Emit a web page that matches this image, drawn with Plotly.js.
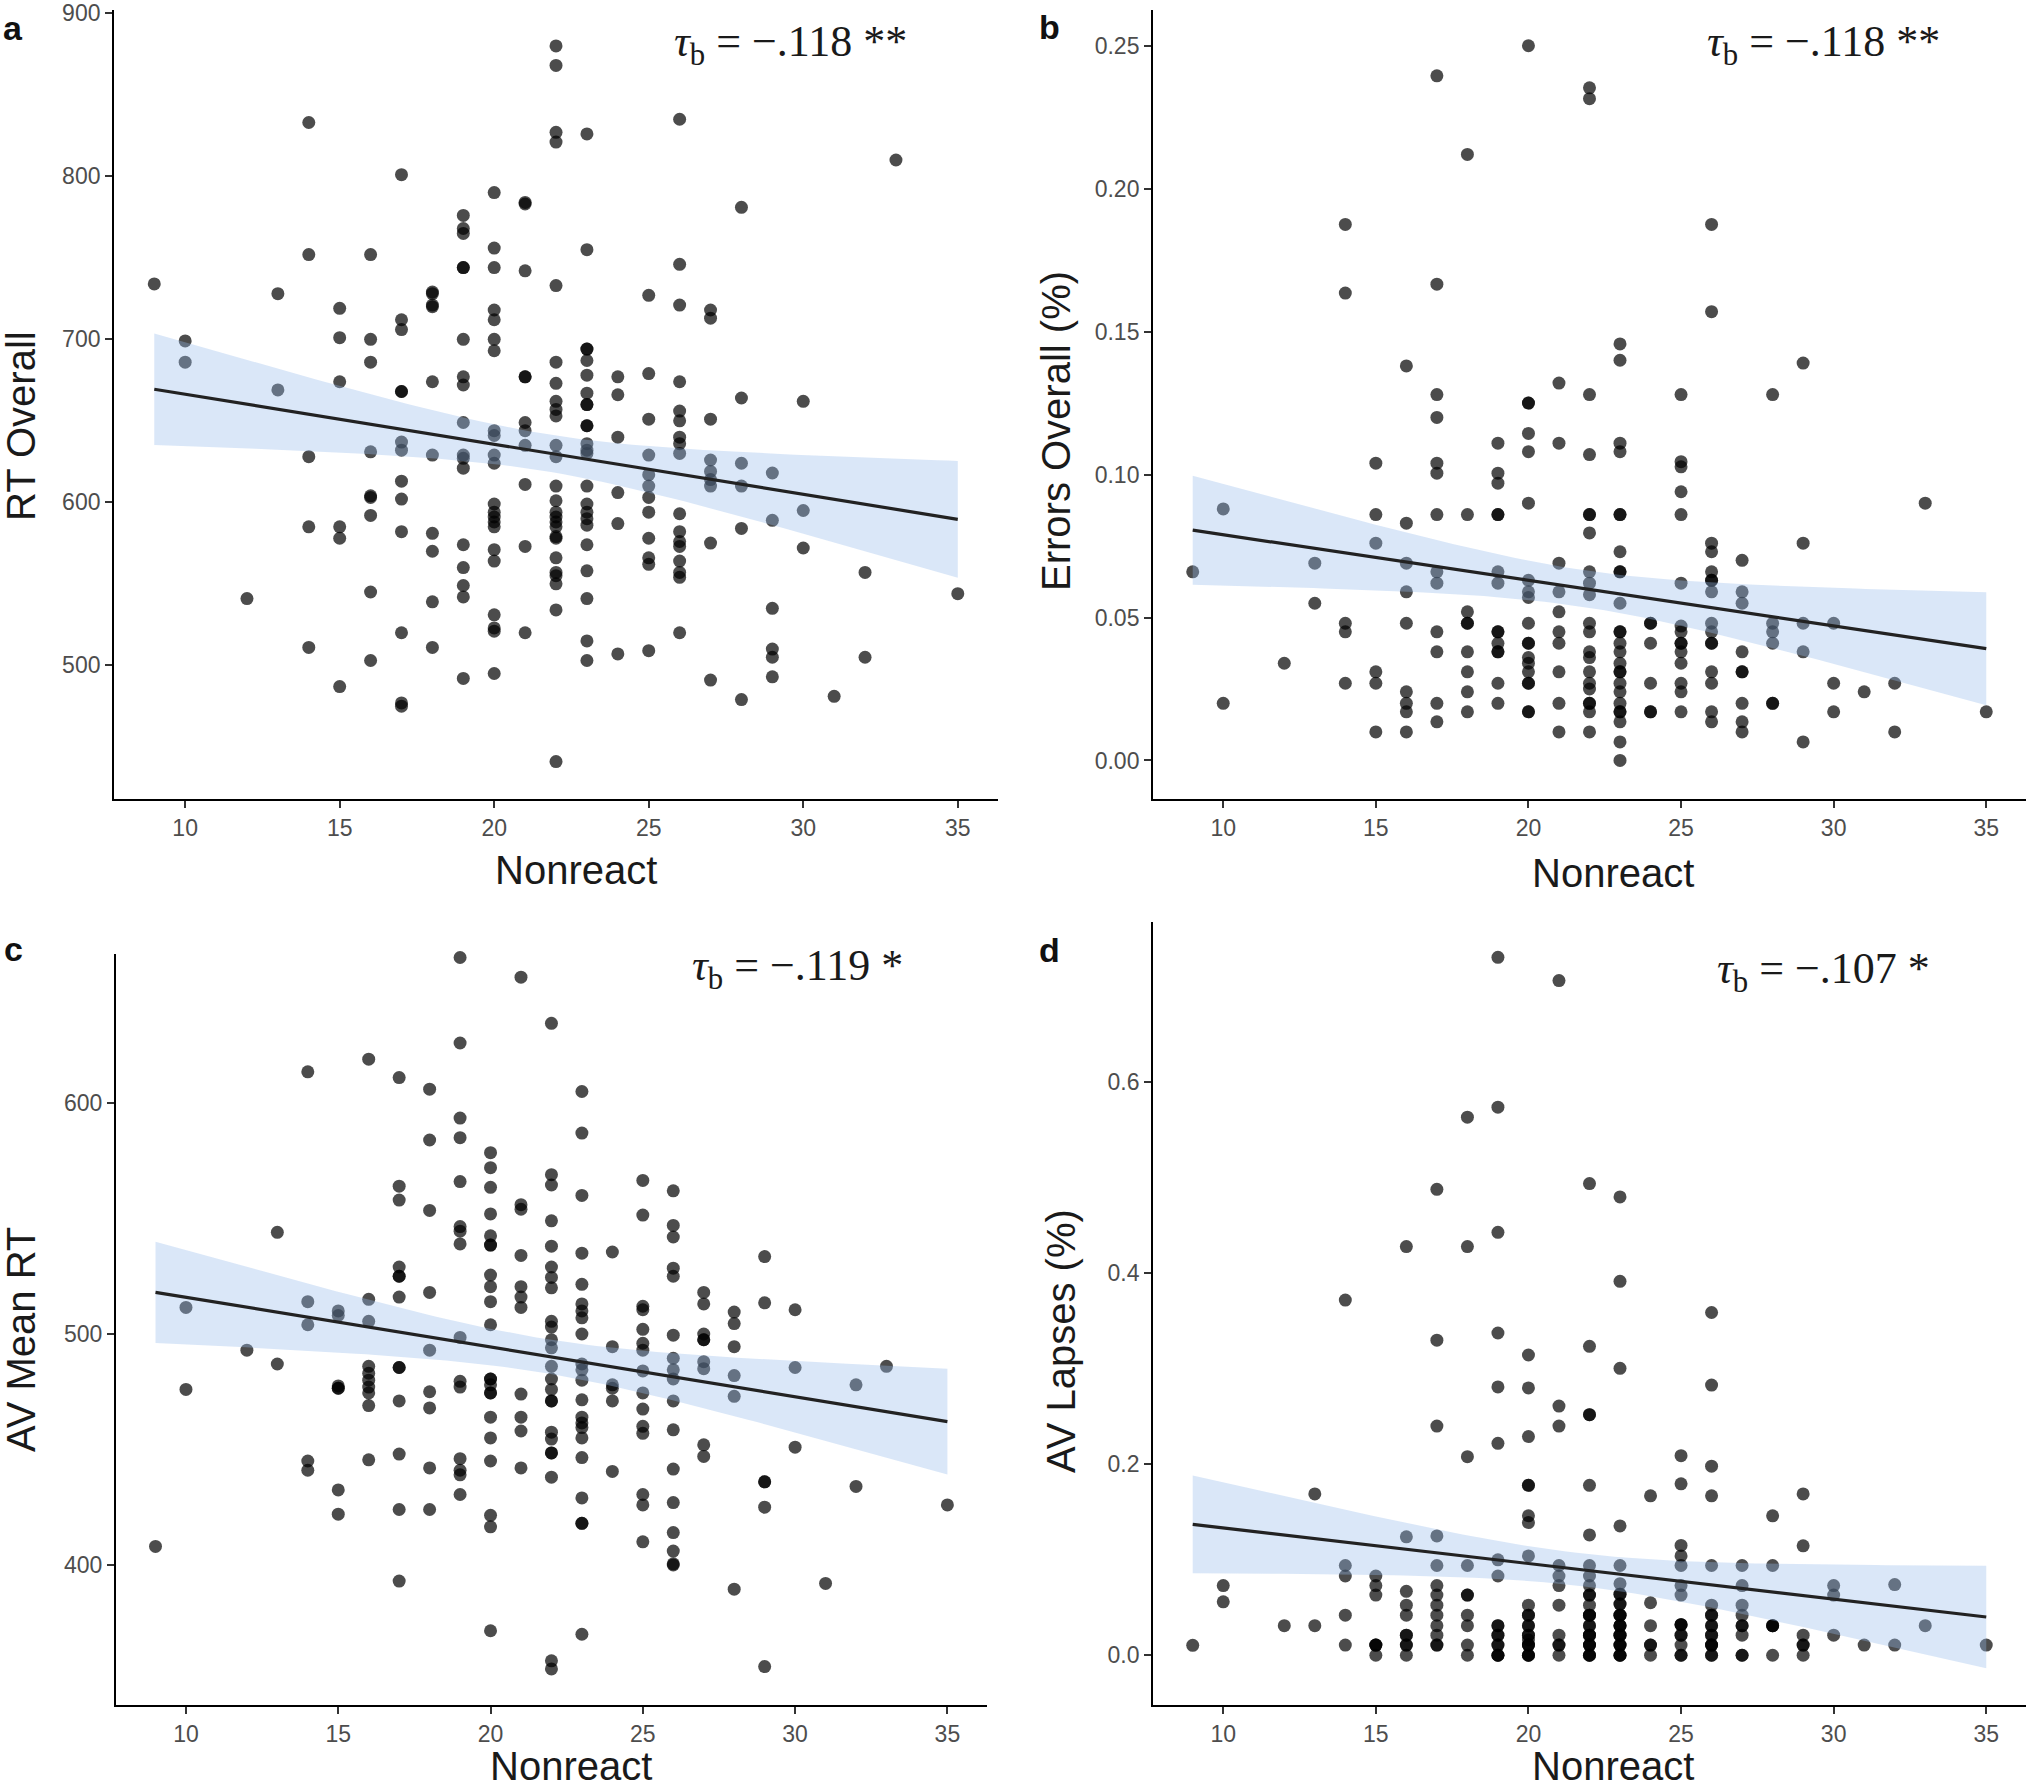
<!DOCTYPE html>
<html>
<head>
<meta charset="utf-8">
<script src="https://cdn.plot.ly/plotly-3.0.1.min.js"></script>
<style>
  html, body { margin: 0; padding: 0; background: #ffffff; }
  #chart { width: 2030px; height: 1792px; }
</style>
</head>
<body>
<div id="chart"></div>
<script>
// Nonreact levels present in the data (x values)
const nonreactLevels = [9, 10, 12, 13, 14, 15, 16, 17, 18, 19, 20, 21, 22, 23, 24, 25, 26, 27, 28, 29, 30, 31, 32, 33, 35];

// Panel a: RT Overall, values grouped by Nonreact level
const rtOverall = [
  [734],
  [699, 686],
  [541],
  [728, 669],
  [833, 752, 628, 585, 511],
  [719, 701, 674, 585, 578, 487],
  [752, 700, 686, 631, 604, 603, 592, 545, 503],
  [801, 712, 706, 668, 668, 637, 632, 613, 602, 582, 520, 477, 475],
  [729, 728, 721, 720, 674, 629, 581, 570, 539, 511],
  [776, 768, 765, 744, 744, 700, 677, 672, 649, 629, 627, 621, 574, 560, 549, 542, 492],
  [790, 756, 744, 718, 712, 700, 693, 644, 641, 629, 624, 599, 594, 591, 588, 585, 571, 564, 531, 523, 521, 495],
  [784, 783, 742, 677, 677, 649, 644, 635, 611, 573, 520],
  [880, 868, 827, 821, 733, 686, 673, 662, 657, 653, 635, 628, 610, 601, 594, 591, 588, 585, 579, 578, 566, 557, 555, 550, 534, 441],
  [826, 755, 694, 694, 687, 678, 667, 660, 660, 647, 647, 636, 632, 630, 610, 599, 594, 590, 586, 574, 558, 541, 515, 503],
  [677, 666, 640, 606, 587, 507],
  [727, 679, 651, 629, 617, 610, 603, 594, 578, 566, 562, 509],
  [835, 746, 721, 674, 656, 650, 640, 636, 630, 593, 582, 576, 573, 564, 557, 554, 520],
  [718, 713, 651, 626, 619, 614, 610, 575, 491],
  [781, 664, 624, 610, 584, 479],
  [618, 589, 535, 510, 505, 493],
  [662, 595, 572],
  [481],
  [557, 505],
  [810],
  [544]
];

// Panel b: Errors Overall (%)
const errorsOverall = [
  [0.066],
  [0.088, 0.020],
  [0.034],
  [0.069, 0.055],
  [0.1875, 0.1635, 0.048, 0.045, 0.027],
  [0.104, 0.086, 0.076, 0.031, 0.027, 0.010],
  [0.138, 0.083, 0.069, 0.059, 0.048, 0.024, 0.020, 0.017, 0.010],
  [0.2395, 0.1666, 0.128, 0.120, 0.104, 0.1005, 0.086, 0.066, 0.062, 0.045, 0.038, 0.020, 0.0135],
  [0.212, 0.086, 0.052, 0.048, 0.048, 0.038, 0.031, 0.024, 0.017],
  [0.111, 0.1005, 0.097, 0.086, 0.086, 0.066, 0.062, 0.045, 0.045, 0.041, 0.038, 0.038, 0.027, 0.020],
  [0.250, 0.125, 0.125, 0.1144, 0.108, 0.090, 0.063, 0.059, 0.057, 0.048, 0.041, 0.041, 0.036, 0.034, 0.031, 0.027, 0.027, 0.017, 0.017],
  [0.132, 0.111, 0.069, 0.059, 0.052, 0.045, 0.041, 0.031, 0.020, 0.010],
  [0.2353, 0.2315, 0.128, 0.107, 0.086, 0.086, 0.0796, 0.066, 0.062, 0.058, 0.048, 0.045, 0.038, 0.036, 0.031, 0.027, 0.025, 0.020, 0.020, 0.017, 0.010],
  [0.1457, 0.140, 0.111, 0.108, 0.086, 0.086, 0.073, 0.066, 0.066, 0.055, 0.045, 0.045, 0.041, 0.038, 0.034, 0.031, 0.031, 0.027, 0.024, 0.020, 0.017, 0.017, 0.0135, 0.0065, 0.000],
  [0.048, 0.048, 0.041, 0.027, 0.017, 0.017],
  [0.128, 0.1045, 0.1027, 0.094, 0.086, 0.062, 0.047, 0.045, 0.041, 0.041, 0.038, 0.034, 0.027, 0.024, 0.017],
  [0.1875, 0.157, 0.076, 0.073, 0.066, 0.063, 0.063, 0.059, 0.048, 0.045, 0.041, 0.041, 0.031, 0.027, 0.017, 0.0135],
  [0.070, 0.059, 0.055, 0.038, 0.031, 0.031, 0.020, 0.0135, 0.010],
  [0.128, 0.048, 0.045, 0.041, 0.020, 0.020],
  [0.139, 0.076, 0.048, 0.038, 0.0065],
  [0.048, 0.027, 0.017],
  [0.024],
  [0.027, 0.010],
  [0.090],
  [0.017]
];

// Panel c: AV Mean RT
const avMeanRT = [
  [408],
  [511.5, 476],
  [493],
  [544, 487],
  [613.5, 514, 504, 445, 441],
  [510, 508, 477.5, 476.5, 476.5, 432.5, 422],
  [619, 515, 505.5, 486, 483, 480, 477, 474.5, 469, 445.5],
  [611, 564, 558, 529, 525, 525, 516, 485.5, 485.5, 471, 448, 424, 393],
  [606, 584, 553.5, 518, 493, 475, 468, 442, 424],
  [663, 626, 593.5, 585, 566, 546.5, 544.5, 539, 498.5, 479.5, 477, 446, 441, 439, 430.5],
  [578.5, 572, 563.5, 552, 542.5, 538.5, 538.5, 525.5, 520.5, 514, 504, 480.5, 480.5, 478, 474.5, 474.5, 464, 455, 445, 421.5, 416.5, 371.5],
  [654.5, 556, 554, 534, 520.5, 516, 511.5, 474, 464, 458, 442],
  [634.5, 569, 564.5, 549, 538, 529, 524.5, 520, 505.5, 503, 497.5, 494, 486, 480.5, 476, 471, 471, 457.5, 454.5, 448.5, 448.5, 438, 358.5, 355],
  [605, 587, 560, 535, 521.5, 513, 510, 507, 500, 487, 484.5, 480, 471.5, 464, 461.5, 459.5, 455, 446.5, 429, 418, 418, 370],
  [535.5, 494.5, 478, 476.5, 471, 440.5],
  [566.5, 551.5, 512, 510.5, 502, 496, 493, 484, 474.5, 467.5, 460, 457, 430.5, 426, 410],
  [562, 547, 542, 528.5, 525, 499.5, 489.5, 484.5, 480.5, 471, 458.5, 441.5, 427, 414, 406, 400.5, 400],
  [518, 513, 500, 497.5, 497.5, 488, 485, 452, 447],
  [509.5, 504.5, 494.5, 482, 473, 389.5],
  [533.5, 513.5, 436, 436, 425, 356],
  [510.5, 485.5, 451],
  [392],
  [478, 434],
  [486],
  [426]
];

// Panel d: AV Lapses (%) (dark stacks hold several overlapping points)
const avLapses = [
  [0.0104],
  [0.073, 0.056],
  [0.031],
  [0.169, 0.031],
  [0.372, 0.094, 0.083, 0.042, 0.0107],
  [0.083, 0.073, 0.063, 0.0107, 0.0107, 0.0107, 0],
  [0.428, 0.124, 0.067, 0.0525, 0.042, 0.021, 0.021, 0.0107, 0.0107, 0],
  [0.488, 0.330, 0.240, 0.125, 0.094, 0.073, 0.063, 0.0525, 0.042, 0.031, 0.021, 0.0107, 0.0107],
  [0.5636, 0.428, 0.208, 0.094, 0.063, 0.063, 0.042, 0.031, 0.0107, 0],
  [0.731, 0.574, 0.443, 0.3375, 0.281, 0.222, 0.100, 0.083, 0.031, 0.031, 0.021, 0.021, 0.0107, 0.0107, 0, 0, 0],
  [0.3145, 0.280, 0.229, 0.178, 0.178, 0.146, 0.139, 0.104, 0.0525, 0.042, 0.042, 0.031, 0.031, 0.021, 0.021, 0.016, 0.0107, 0.0107, 0.0107, 0, 0, 0],
  [0.7066, 0.261, 0.240, 0.094, 0.083, 0.073, 0.0525, 0.021, 0.0107, 0.0107, 0],
  [0.494, 0.3236, 0.252, 0.252, 0.178, 0.126, 0.094, 0.083, 0.073, 0.063, 0.063, 0.0525, 0.042, 0.042, 0.042, 0.031, 0.031, 0.021, 0.021, 0.021, 0.0107, 0.0107, 0.0107, 0, 0, 0],
  [0.480, 0.3916, 0.3005, 0.1355, 0.094, 0.075, 0.064, 0.064, 0.0536, 0.0536, 0.042, 0.042, 0.042, 0.031, 0.031, 0.031, 0.021, 0.021, 0.021, 0.0107, 0.0107, 0.0107, 0, 0, 0],
  [0.167, 0.055, 0.031, 0.0107, 0.0107, 0],
  [0.209, 0.1795, 0.115, 0.104, 0.094, 0.073, 0.063, 0.032, 0.032, 0.032, 0.021, 0.021, 0.0107, 0, 0],
  [0.359, 0.283, 0.198, 0.167, 0.094, 0.0525, 0.042, 0.042, 0.031, 0.031, 0.021, 0.021, 0.0107, 0.0107, 0.0107, 0, 0],
  [0.094, 0.073, 0.0525, 0.042, 0.031, 0.031, 0.021, 0, 0],
  [0.146, 0.094, 0.031, 0.031, 0.031, 0],
  [0.169, 0.1146, 0.021, 0.0107, 0.0107, 0],
  [0.073, 0.063, 0.021],
  [0.0107],
  [0.074, 0.0107],
  [0.031],
  [0.0107]
];

// Text
const panelLetters = ['a', 'b', 'c', 'd'];
const yTitles = ['RT Overall', 'Errors Overall (%)', 'AV Mean RT', 'AV Lapses (%)'];
const xTitle = 'Nonreact';
const tauTexts = ['−.118 **', '−.118 **', '−.119 *', '−.107 *'];
const xTickVals = [10, 15, 20, 25, 30, 35];
const yTickValsA = [500, 600, 700, 800, 900];
const yTickValsB = [0.00, 0.05, 0.10, 0.15, 0.20, 0.25];
const yTickValsC = [400, 500, 600];
const yTickValsD = [0.0, 0.2, 0.4, 0.6];

function flatten(levels, groups) {
  const xs = [], ys = [];
  groups.forEach((g, i) => g.forEach(v => { xs.push(levels[i]); ys.push(v); }));
  return { xs, ys };
}

// OLS fit with 95% confidence band (as in geom_smooth(method = "lm"))
function lmBand(xs, ys, nGrid) {
  const n = xs.length;
  const mx = xs.reduce((a, b) => a + b, 0) / n;
  const my = ys.reduce((a, b) => a + b, 0) / n;
  let sxx = 0, sxy = 0;
  for (let i = 0; i < n; i++) { sxx += (xs[i] - mx) ** 2; sxy += (xs[i] - mx) * (ys[i] - my); }
  const b1 = sxy / sxx, b0 = my - b1 * mx;
  let sse = 0;
  for (let i = 0; i < n; i++) sse += (ys[i] - b0 - b1 * xs[i]) ** 2;
  const df = n - 2;
  const s = Math.sqrt(sse / df);
  const z = 1.959964;
  const t = z + (z ** 3 + z) / (4 * df) + (5 * z ** 5 + 16 * z ** 3 + 3 * z) / (96 * df * df);
  const xmin = Math.min(...xs), xmax = Math.max(...xs);
  const gx = [], fit = [], lo = [], hi = [];
  for (let k = 0; k < nGrid; k++) {
    const x0 = xmin + (xmax - xmin) * k / (nGrid - 1);
    const yhat = b0 + b1 * x0;
    const se = s * Math.sqrt(1 / n + (x0 - mx) ** 2 / sxx);
    gx.push(x0); fit.push(yhat); lo.push(yhat - t * se); hi.push(yhat + t * se);
  }
  return { gx, fit, lo, hi };
}

const datasets = [rtOverall, errorsOverall, avMeanRT, avLapses];
const axisIds = [['x', 'y'], ['x2', 'y2'], ['x3', 'y3'], ['x4', 'y4']];
const traces = [];
datasets.forEach((groups, i) => {
  const d = flatten(nonreactLevels, groups);
  const band = lmBand(d.xs, d.ys, 80);
  const [xa, ya] = axisIds[i];
  traces.push({
    type: 'scatter', mode: 'markers', x: d.xs, y: d.ys, xaxis: xa, yaxis: ya,
    marker: { size: 13, color: 'rgba(0,0,0,0.7)', line: { width: 0 } },
    cliponaxis: false, hoverinfo: 'x+y'
  });
  traces.push({
    type: 'scatter', mode: 'lines', xaxis: xa, yaxis: ya,
    x: band.gx.concat(band.gx.slice().reverse()),
    y: band.hi.concat(band.lo.slice().reverse()),
    fill: 'toself', fillcolor: 'rgba(150,185,235,0.35)',
    line: { width: 0, color: 'rgba(0,0,0,0)' }, hoverinfo: 'skip'
  });
  traces.push({
    type: 'scatter', mode: 'lines', xaxis: xa, yaxis: ya,
    x: band.gx, y: band.fit,
    line: { color: '#222222', width: 3.2 }, hoverinfo: 'skip'
  });
});

const tickFont = { family: 'Liberation Sans, Arial, sans-serif', size: 23, color: '#4D4D4D' };
function xAxis(domain, anchor) {
  return {
    domain, anchor, range: [7.7, 36.3], tickvals: xTickVals,
    showline: true, linecolor: '#000', linewidth: 2, ticks: 'outside', ticklen: 7,
    tickwidth: 2, tickcolor: '#333', showgrid: false, zeroline: false, tickfont: tickFont
  };
}
function yAxis(domain, anchor, range, tickvals, fmt) {
  return {
    domain, anchor, range, tickvals, tickformat: fmt,
    showline: true, linecolor: '#000', linewidth: 2, ticks: 'outside', ticklen: 7,
    tickwidth: 2, tickcolor: '#333', showgrid: false, zeroline: false, tickfont: tickFont
  };
}

const W = 2030, H = 1792;
const px = v => v / W, py = v => 1 - v / H;
const annotations = [];
const labelPos = [[13, 28], [1049, 27], [13, 949], [1049, 950]];
const tauPos = [[790, 45], [1823, 45], [797, 968], [1823, 971]];
const yTitlePos = [[21, 426], [1056, 431], [21, 1340], [1061, 1341]];
const xTitlePos = [[576, 870], [1613, 873], [571, 1790], [1613, 1790]];
const xTitleAnchor = ['middle', 'middle', 'bottom', 'bottom'];
const titleFont = { family: 'Liberation Sans, Arial, sans-serif', size: 40, color: '#1a1a1a' };
for (let i = 0; i < 4; i++) {
  annotations.push({ xref: 'paper', yref: 'paper', x: px(labelPos[i][0]), y: py(labelPos[i][1]),
    text: '<b>' + panelLetters[i] + '</b>', showarrow: false, xanchor: 'center', yanchor: 'middle',
    font: { family: 'Liberation Sans, Arial, sans-serif', size: 34, color: '#111' } });
  annotations.push({ xref: 'paper', yref: 'paper', x: px(tauPos[i][0]), y: py(tauPos[i][1]),
    text: '<i>τ</i><sub>b</sub> = ' + tauTexts[i], showarrow: false, xanchor: 'center', yanchor: 'middle',
    font: { family: 'Liberation Serif, DejaVu Serif, serif', size: 44, color: '#1a1a1a' } });
  annotations.push({ xref: 'paper', yref: 'paper', x: px(yTitlePos[i][0]), y: py(yTitlePos[i][1]),
    text: yTitles[i], textangle: -90, showarrow: false, xanchor: 'center', yanchor: 'middle', font: titleFont });
  annotations.push({ xref: 'paper', yref: 'paper', x: px(xTitlePos[i][0]), y: py(xTitlePos[i][1]),
    text: xTitle, showarrow: false, xanchor: 'center', yanchor: xTitleAnchor[i], font: titleFont });
}

const layout = {
  width: W, height: H, margin: { l: 0, r: 0, t: 0, b: 0 },
  paper_bgcolor: '#ffffff', plot_bgcolor: '#ffffff', showlegend: false,
  xaxis: xAxis([0.0562, 0.4916], 'y'),
  yaxis: yAxis([0.5541, 0.9944], 'x', [418, 902], yTickValsA, 'd'),
  xaxis2: xAxis([0.5680, 0.9980], 'y2'),
  yaxis2: yAxis([0.5541, 0.9944], 'x2', [-0.0135, 0.2625], yTickValsB, '.2f'),
  xaxis3: xAxis([0.0571, 0.4862], 'y3'),
  yaxis3: yAxis([0.0486, 0.4676], 'x3', [339.4, 664.5], yTickValsC, 'd'),
  xaxis4: xAxis([0.5680, 0.9980], 'y4'),
  yaxis4: yAxis([0.0486, 0.4855], 'x4', [-0.052, 0.768], yTickValsD, '.1f'),
  annotations
};

Plotly.newPlot('chart', traces, layout, { staticPlot: true, displayModeBar: false });
</script>
</body>
</html>
